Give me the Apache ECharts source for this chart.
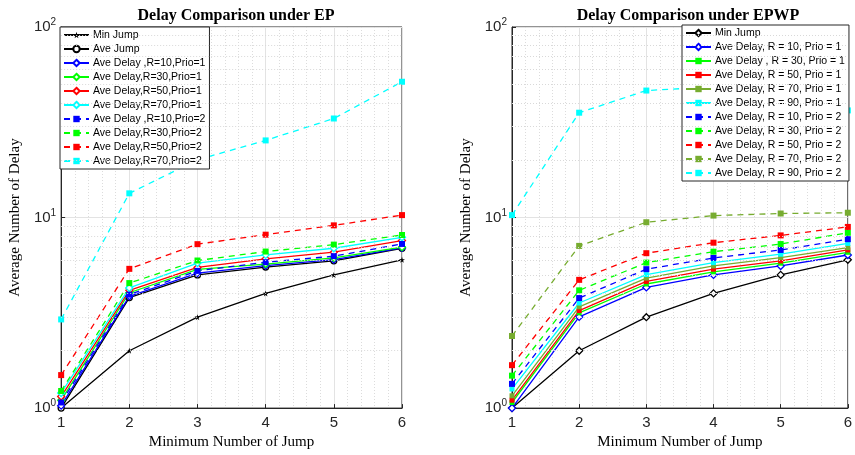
<!DOCTYPE html>
<html><head><meta charset="utf-8">
<script src="https://cdn.jsdelivr.net/npm/echarts@6/dist/echarts.min.js"></script>
<style>html,body{margin:0;padding:0;background:#fff;}#c1{position:absolute;left:0;top:0;width:430px;height:455px;}#c2{position:absolute;left:430px;top:0;width:425px;height:455px;}</style>
</head><body><div id="c1"></div><div id="c2"></div>
<script>
// ---------- data ----------
const jumps = [1, 2, 3, 4, 5, 6];
const yMinorTicks = [2,3,4,5,6,7,8,9,20,30,40,50,60,70,80,90];

// Left: Delay Comparison under EP
const epNames = ['Min Jump','Ave Jump','Ave Delay ,R=10,Prio=1','Ave Delay,R=30,Prio=1','Ave Delay,R=50,Prio=1','Ave Delay,R=70,Prio=1','Ave Delay ,R=10,Prio=2','Ave Delay,R=30,Prio=2','Ave Delay,R=50,Prio=2','Ave Delay,R=70,Prio=2'];
const epMinJump   = [1, 2, 3, 4, 5, 6];
const epAveJump   = [1.00, 3.80, 5.00, 5.50, 5.93, 6.90];
const epR10P1     = [1.03, 3.86, 5.11, 5.60, 6.02, 6.93];
const epR30P1     = [1.10, 4.03, 5.34, 5.70, 6.14, 6.99];
const epR50P1     = [1.15, 4.15, 5.47, 6.07, 6.58, 7.57];
const epR70P1     = [1.20, 4.27, 5.77, 6.37, 6.90, 7.88];
const epR10P2     = [1.07, 3.94, 5.25, 5.83, 6.27, 7.27];
const epR30P2     = [1.23, 4.53, 5.95, 6.63, 7.21, 8.10];
const epR50P2     = [1.49, 5.38, 7.25, 8.13, 9.10, 10.3];
const epR70P2     = [2.92, 13.4, 20.1, 25.4, 33.1, 51.6];

// Right: Delay Comparison under EPWP
const epwpNames = ['Min Jump','Ave Delay, R = 10, Prio = 1','Ave Delay , R = 30, Prio = 1','Ave Delay, R = 50, Prio = 1','Ave Delay, R = 70, Prio = 1','Ave Delay, R = 90, Prio = 1','Ave Delay, R = 10, Prio = 2','Ave Delay, R = 30, Prio = 2','Ave Delay, R = 50, Prio = 2','Ave Delay, R = 70, Prio = 2','Ave Delay, R = 90, Prio = 2'];
const wpMinJump = [1, 2, 3, 4, 5, 6];
const wpR10P1   = [1.00, 3.01, 4.30, 5.00, 5.57, 6.36];
const wpR30P1   = [1.07, 3.16, 4.48, 5.19, 5.76, 6.57];
const wpR50P1   = [1.10, 3.25, 4.62, 5.36, 5.92, 6.76];
const wpR70P1   = [1.16, 3.40, 4.81, 5.57, 6.16, 6.95];
const wpR90P1   = [1.26, 3.56, 5.02, 5.80, 6.42, 7.32];
const wpR10P2   = [1.34, 3.78, 5.36, 6.14, 6.76, 7.70];
const wpR30P2   = [1.48, 4.15, 5.80, 6.62, 7.26, 8.32];
const wpR50P2   = [1.68, 4.71, 6.50, 7.38, 8.06, 8.93];
const wpR70P2   = [2.39, 7.10, 9.45, 10.24, 10.5, 10.6];
const wpR90P2   = [10.3, 35.5, 46.4, 48.5, 45.0, 36.5];

// ---------- helpers ----------
const C = {k:'#000000', b:'#0000FF', g:'#00FF00', r:'#FF0000', c:'#00FFFF', o:'#77AC30'};
const STAR = 'path://M50,0 L61,35 L98,35 L68,57 L79,91 L50,70 L21,91 L32,57 L2,35 L39,35 Z';
function pairs(v){ return jumps.map((x,i)=>[x, v[i]]); }
function ser(name, vals, color, dashed, symbol, hollow, size){
  return {
    name, type:'line', data: pairs(vals), symbol, symbolSize: size,
    lineStyle:{color, width:1.3, type: dashed ? [6,5] : 'solid'},
    itemStyle:{color: hollow ? '#ffffff' : color, borderColor: color, borderWidth: hollow ? 1.3 : 0},
    emphasis:{disabled:true}, animation:false, z: 3
  };
}
const serif = 'Liberation Serif, Times New Roman, serif';
const sans = 'Liberation Sans, Arial, sans-serif';
function makeOption(title, grid, names, series, legendPos){
  const minorGrid = {
    name:'_minor', type:'line', data:[], silent:true, z:1,
    markLine:{
      silent:true, symbol:'none', animation:false, label:{show:false},
      lineStyle:{color:'#d9d9d9', type:[1,2], width:1},
      data: yMinorTicks.map(v=>({yAxis:v}))
    }
  };
  return {
    animation:false,
    title:{text:title, left: grid.left + (grid.width)/2, textAlign:'center', top:3,
      textStyle:{fontFamily:serif, fontWeight:'bold', fontSize:16, color:'#000'}},
    grid:{left:grid.left, top:27, width:grid.width, bottom:45, show:true, borderColor:'#262626', borderWidth:1, backgroundColor:'transparent'},
    legend:Object.assign({
      orient:'vertical', data:names, backgroundColor:'#fff', borderColor:'#262626', borderWidth:1,
      padding:[2,4,2,3], itemGap:2, itemWidth:25, itemHeight:8,
      textStyle:{fontFamily:sans, fontSize:10.5, lineHeight:12, color:'#000', padding:[0,0,0,-1]}, selectedMode:false
    }, legendPos),
    xAxis:{type:'value', min:1, max:6, interval:1,
      name:'Minimum Number of Jump', nameLocation:'middle', nameGap:24,
      nameTextStyle:{fontFamily:serif, fontSize:15, color:'#000'},
      axisLine:{show:true, lineStyle:{color:'#262626'}},
      axisTick:{show:true, inside:true, length:4, lineStyle:{color:'#262626'}},
      axisLabel:{fontFamily:sans, fontSize:15, color:'#262626', margin:7},
      splitLine:{show:true, lineStyle:{color:'#e3e3e3', width:1}},
      minorTick:{show:false, splitNumber:5},
      minorSplitLine:{show:true, lineStyle:{color:'#dcdcdc', type:[1,2], width:1}}
    },
    yAxis:{type:'log', logBase:10, min:1, max:100,
      name:'Average Number of Delay', nameLocation:'middle', nameGap:grid.nameGap,
      nameTextStyle:{fontFamily:serif, fontSize:15, color:'#000'},
      axisLine:{show:true, lineStyle:{color:'#262626'}},
      axisTick:{show:true, inside:true, length:4, lineStyle:{color:'#262626'}},
      axisLabel:{margin:5, formatter:(v)=>'{b|10}{s|' + Math.round(Math.log10(v)) + '}',
        rich:{b:{fontFamily:sans, fontSize:15, color:'#262626'}, s:{fontFamily:sans, fontSize:10, color:'#262626', padding:[0,0,9,0]}}},
      splitLine:{show:true, lineStyle:{color:'#e3e3e3', width:1}}
    },
    series: [minorGrid].concat(series)
  };
}

// ---------- left chart ----------
const s1 = [
  ser(epNames[0], epMinJump, C.k, false, STAR, false, 6),
  ser(epNames[1], epAveJump, C.k, false, 'circle', true, 6),
  ser(epNames[2], epR10P1, C.b, false, 'diamond', true, 7),
  ser(epNames[3], epR30P1, C.g, false, 'diamond', true, 7),
  ser(epNames[4], epR50P1, C.r, false, 'diamond', true, 7),
  ser(epNames[5], epR70P1, C.c, false, 'diamond', true, 7),
  ser(epNames[6], epR10P2, C.b, true, 'rect', false, 6),
  ser(epNames[7], epR30P2, C.g, true, 'rect', false, 6),
  ser(epNames[8], epR50P2, C.r, true, 'rect', false, 6),
  ser(epNames[9], epR70P2, C.c, true, 'rect', false, 6)
];
const ch1 = echarts.init(document.getElementById('c1'), null, {renderer:'canvas'});
ch1.setOption(makeOption('Delay Comparison under EP', {left:60, width:342, nameGap:32}, epNames, s1, {left:60, top:27}));

// ---------- right chart ----------
const s2 = [
  ser(epwpNames[0], wpMinJump, C.k, false, 'diamond', true, 7),
  ser(epwpNames[1], wpR10P1, C.b, false, 'diamond', true, 7),
  ser(epwpNames[2], wpR30P1, C.g, false, 'rect', false, 5),
  ser(epwpNames[3], wpR50P1, C.r, false, 'rect', false, 5),
  ser(epwpNames[4], wpR70P1, C.o, false, 'rect', false, 5),
  ser(epwpNames[5], wpR90P1, C.c, false, 'rect', false, 5),
  ser(epwpNames[6], wpR10P2, C.b, true, 'rect', false, 6),
  ser(epwpNames[7], wpR30P2, C.g, true, 'rect', false, 6),
  ser(epwpNames[8], wpR50P2, C.r, true, 'rect', false, 6),
  ser(epwpNames[9], wpR70P2, C.o, true, 'rect', false, 6),
  ser(epwpNames[10], wpR90P2, C.c, true, 'rect', false, 6)
];
const ch2 = echarts.init(document.getElementById('c2'), null, {renderer:'canvas'});
ch2.setOption(makeOption('Delay Comparison under EPWP', {left:82, width:342, nameGap:37}, epwpNames, s2, {left:252, top:25}));
</script>
</body></html>
